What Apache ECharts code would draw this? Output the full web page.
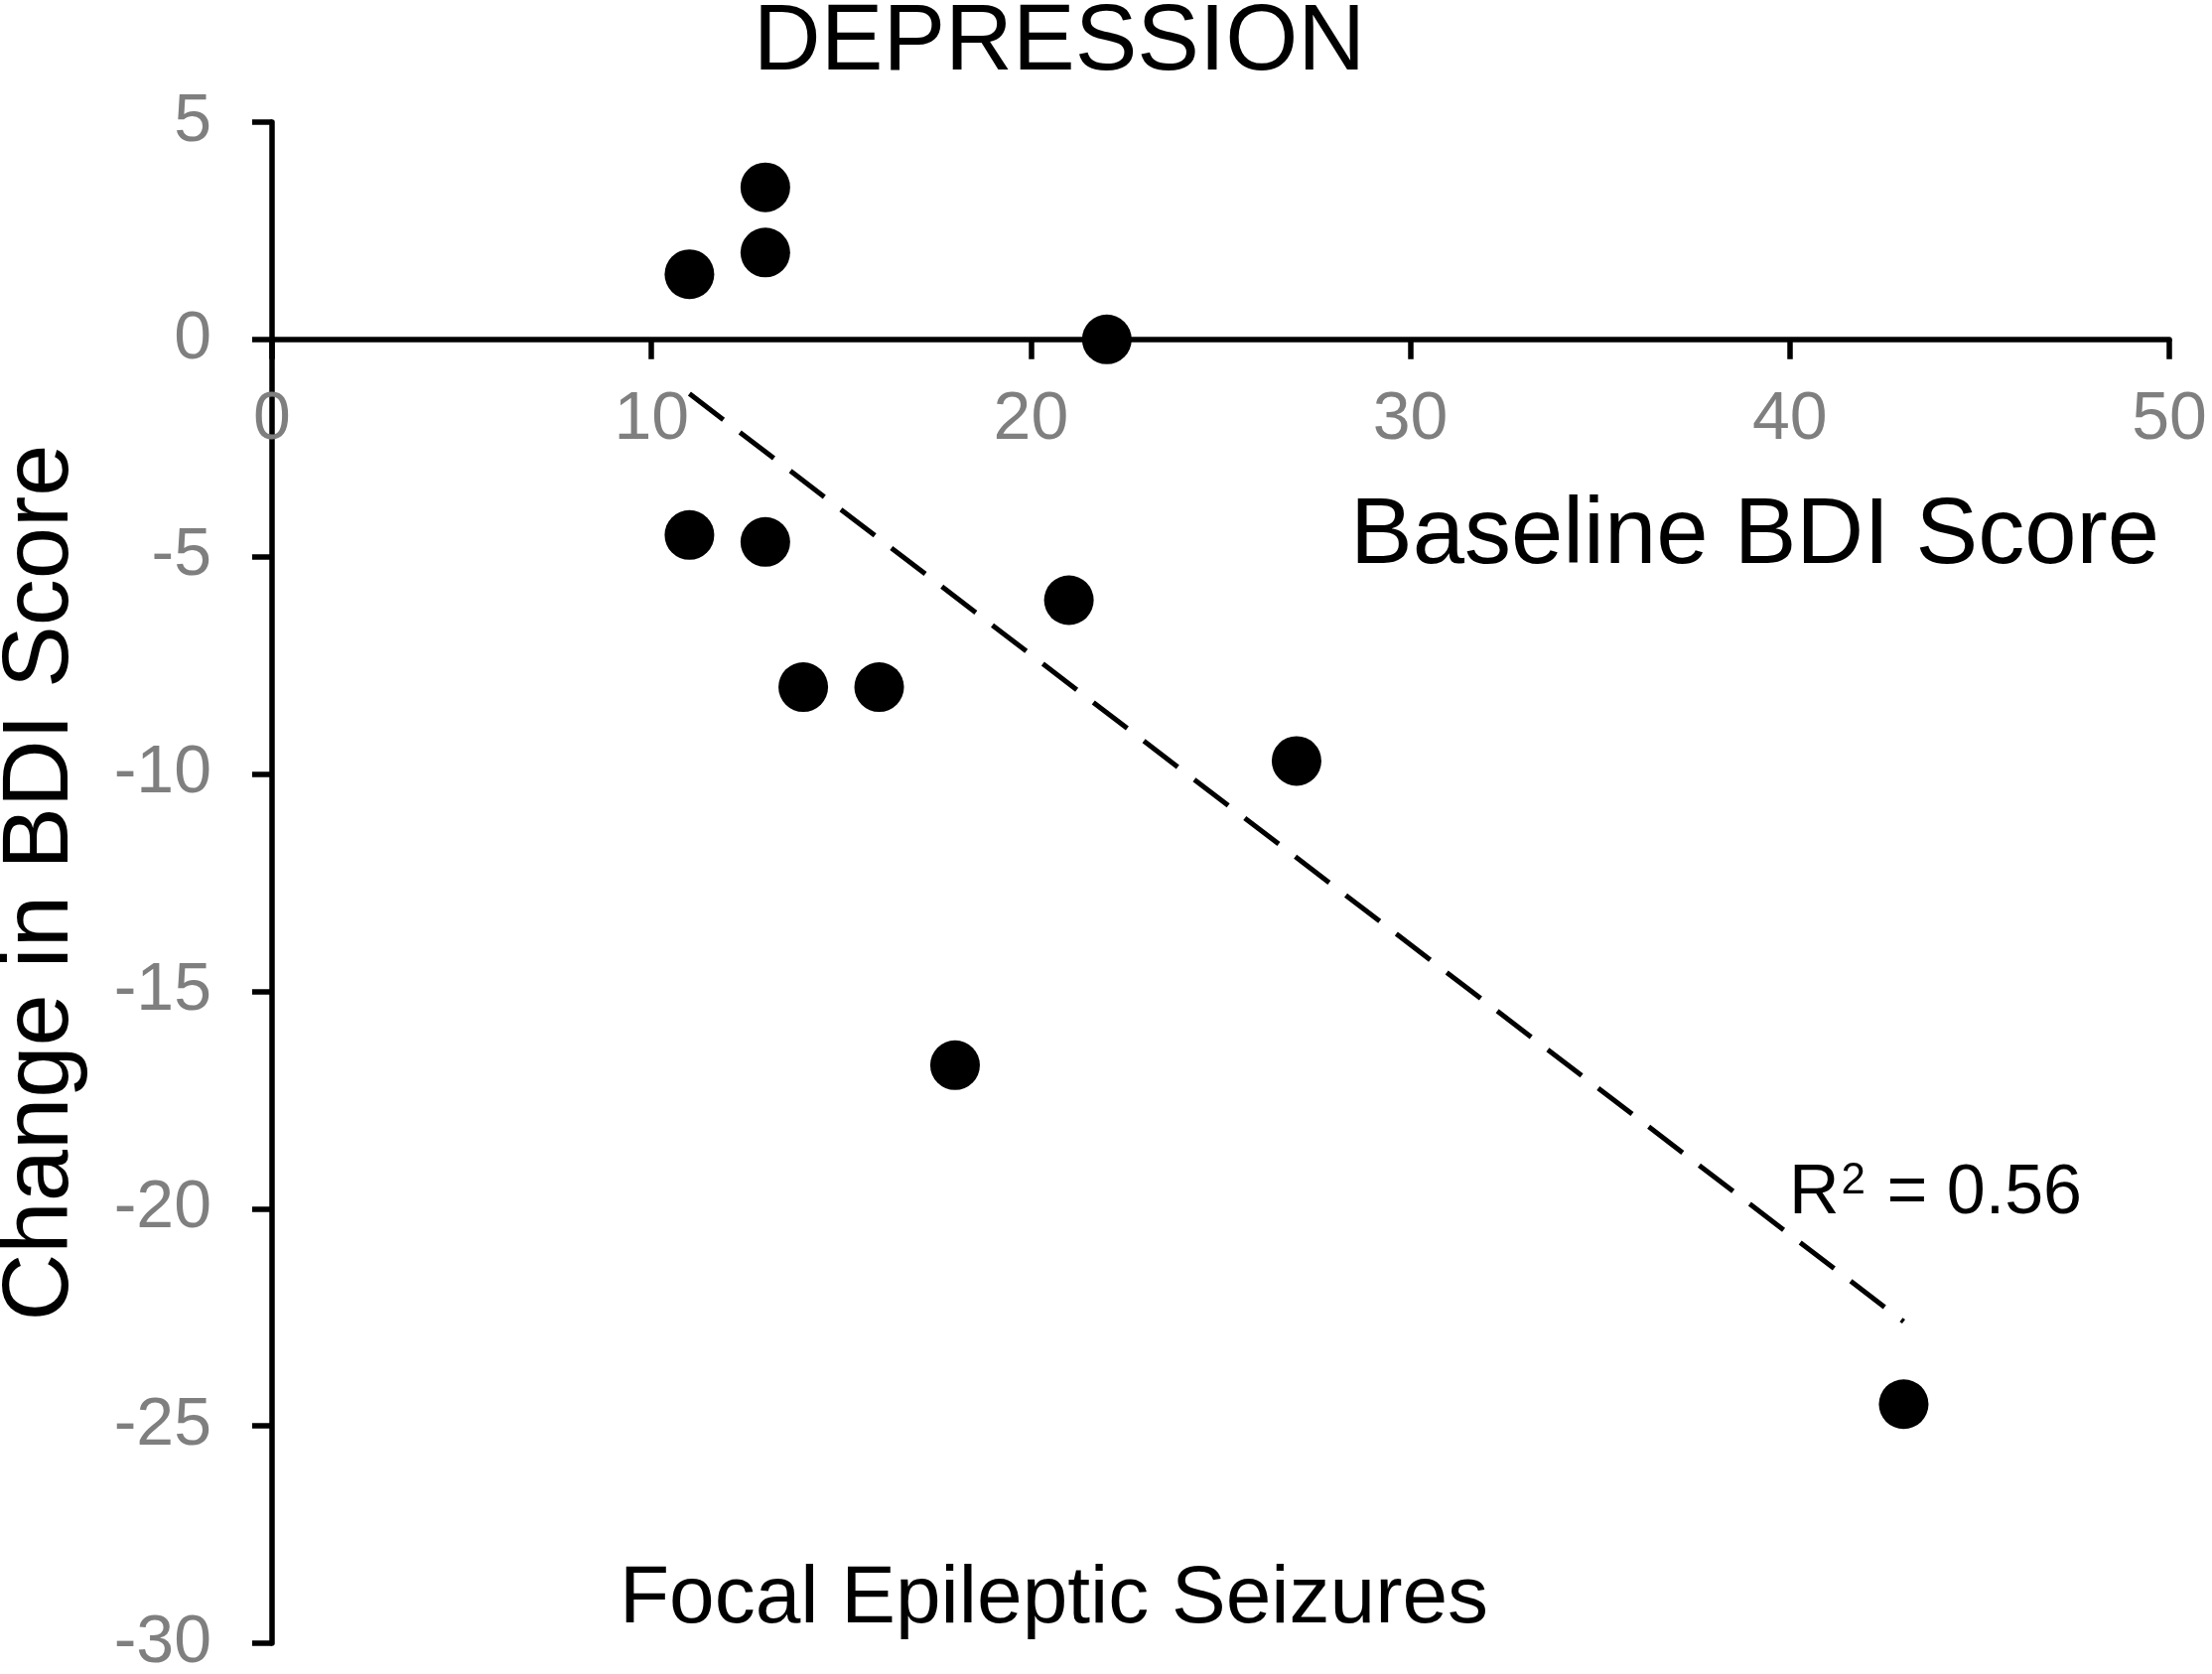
<!DOCTYPE html>
<html><head><meta charset="utf-8">
<script src="https://cdn.jsdelivr.net/npm/echarts@6/dist/echarts.min.js"></script>
<style>html,body{margin:0;padding:0;background:#fff}#c{width:2228px;height:1686px}</style>
</head><body><div id="c"></div>
<script>
// ---- data ----
const baselineBDI = [11, 13, 13, 22, 11, 13, 21, 14, 16, 27, 18, 43];
const changeBDI   = [1.5, 3.5, 2, 0, -4.5, -4.66, -6, -8, -8, -9.7, -16.7, -24.5];
const trendX = [11, 43];
const trendY = [-1.25, -22.6];
const xTickValues = [0, 10, 20, 30, 40, 50];
const yTickValues = [5, 0, -5, -10, -15, -20, -25, -30];
const titleText = 'DEPRESSION';
const xName = 'Baseline BDI Score';
const yName = 'Change in BDI Score';
const noteText = 'Focal Epileptic Seizures';

const FONT = '"Liberation Sans", Arial, Helvetica, sans-serif';
const chart = echarts.init(document.getElementById('c'), null, {renderer: 'canvas'});

const points = baselineBDI.map((x, i) => [x, changeBDI[i]]);
const trend = trendX.map((x, i) => [x, trendY[i]]);

const GRID = {left: 274, right: 43, top: 123, bottom: 31};
const plotH = 1686 - GRID.top - GRID.bottom;
const yMin = Math.min(...yTickValues), yMax = Math.max(...yTickValues);
// move the x axis up from the grid bottom to the y = 0 line
const xAxisOffset = -plotH * (0 - yMin) / (yMax - yMin);

const lineSt = {color: '#000', width: 5.5};
const labelSt = {color: '#7f7f7f', fontSize: 68, fontFamily: FONT, showMinLabel: true, showMaxLabel: true, hideOverlap: false};

chart.setOption({
  backgroundColor: '#fff',
  animation: false,
  grid: Object.assign({outerBoundsMode: 'none', containLabel: false}, GRID),
  xAxis: {
    type: 'value',
    position: 'bottom',
    offset: xAxisOffset,
    min: Math.min(...xTickValues), max: Math.max(...xTickValues),
    interval: xTickValues[1] - xTickValues[0],
    axisLine: {show: true, onZero: false, lineStyle: lineSt},
    axisTick: {show: true, length: 20, lineStyle: lineSt},
    splitLine: {show: false},
    axisLabel: Object.assign({margin: 47}, labelSt)
  },
  yAxis: {
    type: 'value',
    position: 'left',
    min: yMin, max: yMax,
    interval: yTickValues[0] - yTickValues[1],
    axisLine: {show: true, onZero: false, lineStyle: lineSt},
    axisTick: {show: true, length: 20, lineStyle: lineSt},
    splitLine: {show: false},
    axisLabel: Object.assign({margin: 61}, labelSt)
  },
  series: [
    {
      type: 'line',
      data: trend,
      symbol: 'none',
      silent: true,
      z: 1,
      lineStyle: {color: '#000', width: 5, type: [43, 21]}
    },
    {
      type: 'scatter',
      data: points,
      symbol: 'circle',
      symbolSize: 50,
      z: 3,
      itemStyle: {color: '#000', opacity: 1}
    }
  ],
  graphic: [
    {type: 'text', x: 1067, y: 44, style: {text: titleText, font: '94px ' + FONT, fill: '#000', textAlign: 'center', textVerticalAlign: 'middle'}},
    {type: 'text', x: 2175, y: 541, style: {text: xName, font: '94px ' + FONT, fill: '#000', textAlign: 'right', textVerticalAlign: 'middle'}},
    {type: 'text', x: 42, y: 889, rotation: Math.PI / 2, style: {text: yName, font: '94px ' + FONT, fill: '#000', textAlign: 'center', textVerticalAlign: 'middle'}},
    {type: 'text', x: 624, y: 1611, style: {text: noteText, font: '82px ' + FONT, fill: '#000', textAlign: 'left', textVerticalAlign: 'middle'}},
    {type: 'text', x: 1802, y: 1203, style: {
      text: 'R{sup|2} = 0.56',
      font: '70px ' + FONT, fill: '#000', textAlign: 'left', textVerticalAlign: 'middle',
      rich: {sup: {fontSize: 44, fontFamily: FONT, fill: '#000', verticalAlign: 'top', padding: [0, 2, 24, 2]}}
    }}
  ]
});
</script>
</body></html>
